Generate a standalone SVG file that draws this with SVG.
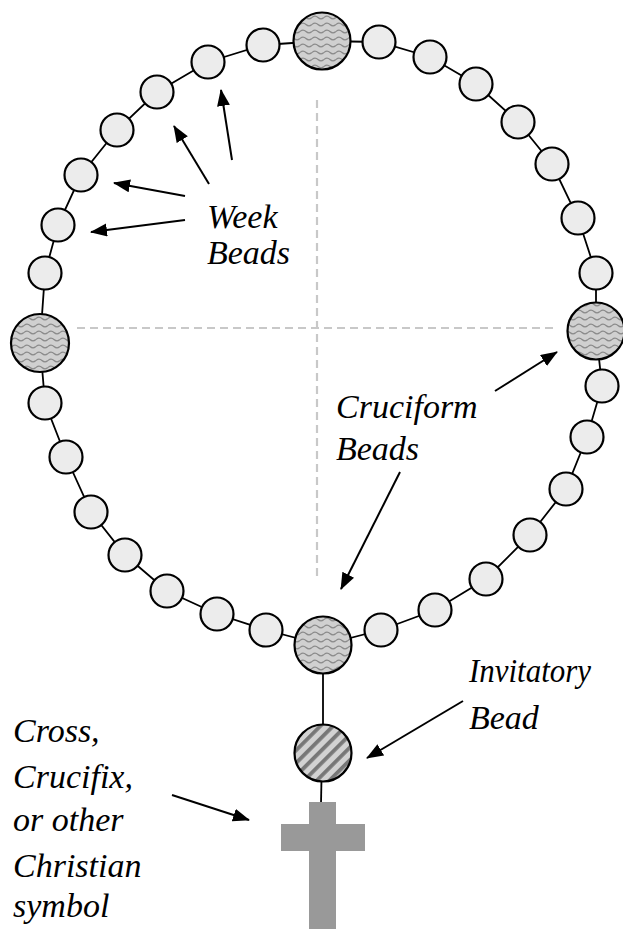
<svg xmlns="http://www.w3.org/2000/svg" width="623" height="929" viewBox="0 0 623 929">
<style>
.bead{fill:#ececec;stroke:#000;stroke-width:2.2}
.big{fill:url(#wave);stroke:#000;stroke-width:2.2}
.cord{fill:none;stroke:#000;stroke-width:1.8}
.dash{stroke:#c8c8c8;stroke-width:2.2;stroke-dasharray:8 5;fill:none}
.arr{stroke:#000;stroke-width:2;fill:none;marker-end:url(#ah)}
.lbl{font-family:"Liberation Serif","DejaVu Serif",serif;font-style:italic;font-size:34px;fill:#000}
</style>
<defs>
<pattern id="wave" patternUnits="userSpaceOnUse" width="12" height="7">
<rect width="12" height="7" fill="#d0d0d0"/>
<path d="M0,3.5 Q3,0.8 6,3.5 T12,3.5" fill="none" stroke="#8a8a8a" stroke-width="1.3"/>
</pattern>
<pattern id="stripe" patternUnits="userSpaceOnUse" width="9" height="9" patternTransform="rotate(45)">
<rect width="9" height="9" fill="#d2d2d2"/>
<rect width="3.8" height="9" fill="#777"/>
</pattern>
<marker id="ah" markerUnits="userSpaceOnUse" markerWidth="18" markerHeight="14" refX="16" refY="6.5" orient="auto">
<path d="M0,0 L17,6.5 L0,13 z" fill="#000"/>
</marker>
</defs>

<g id="guides">
<line class="dash" x1="77" y1="328" x2="556" y2="328"/>
<line class="dash" x1="317" y1="100" x2="317" y2="577"/>
</g>

<g id="connectors">
<polygon class="cord" points="322,41 379,42 430,57 476,84 518,122 552,164 578,218 596,273 596,331 602,386 587,437 566,489 530,535 486,579 435,610 381,630 323,645 266,630 217,614 167,591 125,555 91,512 66,457 45,403 40,343 45,273 58,225 81,175 117,130 157,92 208,62 263,45"/>
<line class="cord" x1="323" y1="645" x2="323" y2="753"/>
<line class="cord" x1="322" y1="753" x2="321" y2="804"/>
<line class="arr" x1="232" y1="160" x2="221" y2="90"/>
<line class="arr" x1="209" y1="184" x2="174" y2="126"/>
<line class="arr" x1="185" y1="196" x2="114" y2="183"/>
<line class="arr" x1="185" y1="220" x2="91" y2="232"/>
<line class="arr" x1="495" y1="391" x2="557" y2="352"/>
<line class="arr" x1="400" y1="472" x2="341" y2="589"/>
<line class="arr" x1="463" y1="701" x2="367" y2="758"/>
<line class="arr" x1="172" y1="795" x2="249" y2="820"/>
</g>

<g id="cruciform-beads">
<circle id="cruciform-top" class="big" cx="322" cy="41" r="28.5"/>
<circle id="cruciform-right" class="big" cx="596" cy="331" r="28.5"/>
<circle id="cruciform-bottom" class="big" cx="323" cy="645" r="28.5"/>
<circle id="cruciform-left" class="big" cx="40" cy="343" r="29"/>
</g>

<g id="week-beads">
<circle class="bead" cx="379" cy="42" r="16.5"/>
<circle class="bead" cx="430" cy="57" r="16.5"/>
<circle class="bead" cx="476" cy="84" r="16.5"/>
<circle class="bead" cx="518" cy="122" r="16.5"/>
<circle class="bead" cx="552" cy="164" r="16.5"/>
<circle class="bead" cx="578" cy="218" r="16.5"/>
<circle class="bead" cx="596" cy="273" r="16.5"/>
<circle class="bead" cx="602" cy="386" r="16.5"/>
<circle class="bead" cx="587" cy="437" r="16.5"/>
<circle class="bead" cx="566" cy="489" r="16.5"/>
<circle class="bead" cx="530" cy="535" r="16.5"/>
<circle class="bead" cx="486" cy="579" r="16.5"/>
<circle class="bead" cx="435" cy="610" r="16.5"/>
<circle class="bead" cx="381" cy="630" r="16.5"/>
<circle class="bead" cx="266" cy="630" r="16.5"/>
<circle class="bead" cx="217" cy="614" r="16.5"/>
<circle class="bead" cx="167" cy="591" r="16.5"/>
<circle class="bead" cx="125" cy="555" r="16.5"/>
<circle class="bead" cx="91" cy="512" r="16.5"/>
<circle class="bead" cx="66" cy="457" r="16.5"/>
<circle class="bead" cx="45" cy="403" r="16.5"/>
<circle class="bead" cx="45" cy="273" r="16.5"/>
<circle class="bead" cx="58" cy="225" r="16.5"/>
<circle class="bead" cx="81" cy="175" r="16.5"/>
<circle class="bead" cx="117" cy="130" r="16.5"/>
<circle class="bead" cx="157" cy="92" r="16.5"/>
<circle class="bead" cx="208" cy="62" r="16.5"/>
<circle class="bead" cx="263" cy="45" r="16.5"/>
</g>

<g id="invitatory-bead">
<circle cx="323" cy="753" r="28.5" fill="url(#stripe)" stroke="#000" stroke-width="2.2"/>
</g>

<g id="cross">
<rect x="309" y="802" width="27" height="127" fill="#999"/>
<rect x="281" y="824" width="84" height="27" fill="#999"/>
</g>

<g id="label-week">
<text class="lbl" x="207" y="228">Week</text>
<text class="lbl" x="207" y="264">Beads</text>
</g>
<g id="label-cruciform">
<text class="lbl" x="336" y="418">Cruciform</text>
<text class="lbl" x="336" y="460">Beads</text>
</g>
<g id="label-invitatory">
<text class="lbl" x="469" y="682" textLength="122" lengthAdjust="spacingAndGlyphs">Invitatory</text>
<text class="lbl" x="469" y="729">Bead</text>
</g>
<g id="label-cross">
<text class="lbl" x="13" y="742">Cross,</text>
<text class="lbl" x="13" y="788">Crucifix,</text>
<text class="lbl" x="13" y="831">or other</text>
<text class="lbl" x="13" y="877">Christian</text>
<text class="lbl" x="13" y="917">symbol</text>
</g>
</svg>
